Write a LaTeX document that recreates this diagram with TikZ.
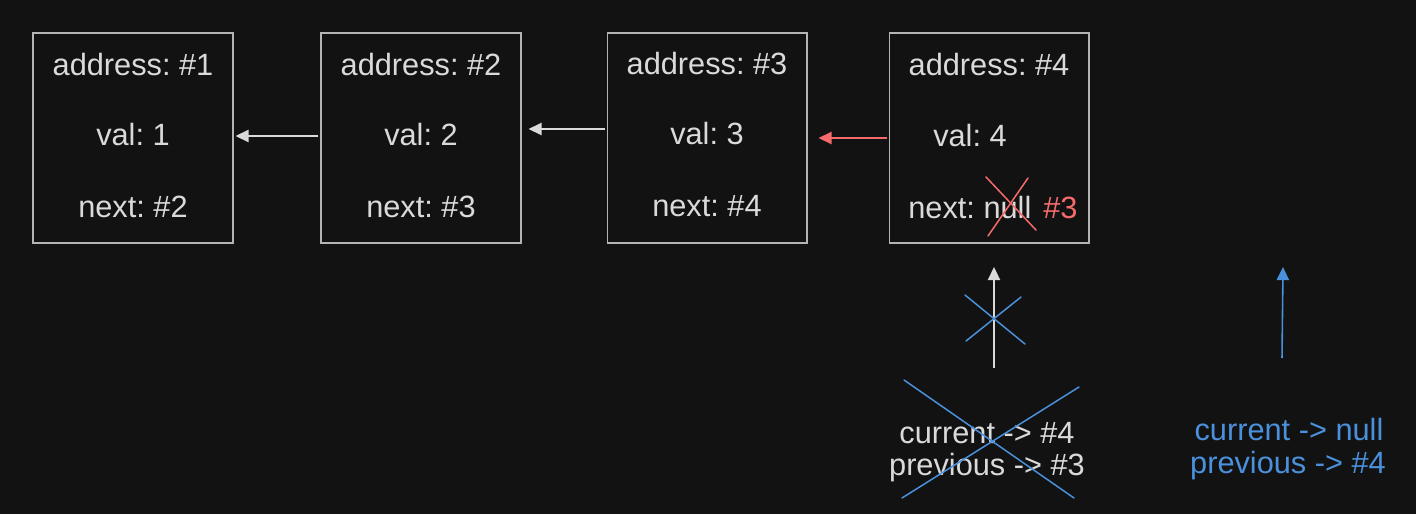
\documentclass[tikz,border=0pt]{standalone}
\usepackage{fontspec}
\setmainfont{Liberation Sans}
\usetikzlibrary{arrows.meta}
\definecolor{bg}{HTML}{121212}
\definecolor{ink}{HTML}{DADADA}
\definecolor{frame}{HTML}{B4B4B4}
\definecolor{hot}{HTML}{F56B6B}
\definecolor{cool}{HTML}{4A90DA}
\frenchspacing
\begin{document}
\begin{tikzpicture}[x=0.02cm,y=-0.02cm,
  cell/.style={draw=frame,line width=0.6pt,minimum width=4cm,minimum height=4.2cm,inner sep=0pt},
  lbl/.style={text=ink,font=\fontsize{17.5}{21}\selectfont,inner sep=0pt},
  arr/.style={-{Triangle[length=7.5pt,width=7pt]},line width=0.9pt,draw=ink,fill=ink},
  hotarr/.style={arr,draw=hot,fill=hot},
  coolarr/.style={arr,draw=cool,fill=cool},
  strike/.style={line width=0.85pt,line cap=round}]
\fill[bg] (0,0) rectangle (1416,514);
\useasboundingbox (0,0) rectangle (1416,514);

% list nodes
\node[cell] (b1) at (133,138) {};
\node[cell] (b2) at (421,138) {};
\node[cell] (b3) at (707,138) {};
\node[cell] (b4) at (989,138) {};

\node[lbl] (a1) at (133,65) {address: \#1};
\node[lbl] (v1) at (133,135) {val: 1};
\node[lbl] (n1) at (133,207) {next: \#2};

\node[lbl] (a2) at (421,65) {address: \#2};
\node[lbl] (v2) at (421,135) {val: 2};
\node[lbl] (n2) at (421,207) {next: \#3};

\node[lbl] (a3) at (707,64) {address: \#3};
\node[lbl] (v3) at (707,134) {val: 3};
\node[lbl] (n3) at (707,206) {next: \#4};

\node[lbl] (a4) at (989,65) {address: \#4};
\node[lbl] (v4) at (970,136) {val: 4};
\node[lbl,anchor=west] (n4) at (908,208) {next: null};
\node[lbl,anchor=west,text=hot] (r4) at (1043,208) {\#3};

% old link struck out
\draw[hot,strike] (986,177) -- (1036,230);
\draw[hot,strike] (988,236) -- (1028,178);

% links between nodes
\draw[arr] ([yshift=0.04cm,xshift=-0.04cm]b2.west) -- ([yshift=0.04cm,xshift=0.04cm]b1.east);
\draw[arr] ([yshift=0.18cm,xshift=-0.04cm]b3.west) -- ([yshift=0.18cm,xshift=0.14cm]b2.east);
\draw[hotarr] ([xshift=-0.04cm]b4.west) -- ([xshift=0.22cm]b3.east);

% pointers, old state
\coordinate (p0) at (994,368);
\coordinate (p1) at (994,267);
\draw[arr] (p0) -- (p1);
\draw[cool,strike] (965,295) -- (1025,344);
\draw[cool,strike] (966,341) -- (1021,297);

\node[lbl] (cur) at (987,433) {current -> \#4};
\node[lbl] (prev) at (987,468) {previous -> \#3};
\draw[cool,strike] (904,380) -- (1074,498);
\draw[cool,strike] (902,498) -- (1079,387);

% pointers, new state
\coordinate (q0) at (1282,358);
\coordinate (q1) at (1283,267);
\draw[coolarr] (q0) -- (q1);
\node[lbl,text=cool] (curn) at (1289,430) {current -> null};
\node[lbl,text=cool] (prevn) at (1288,466) {previous -> \#4};
\end{tikzpicture}
\end{document}
